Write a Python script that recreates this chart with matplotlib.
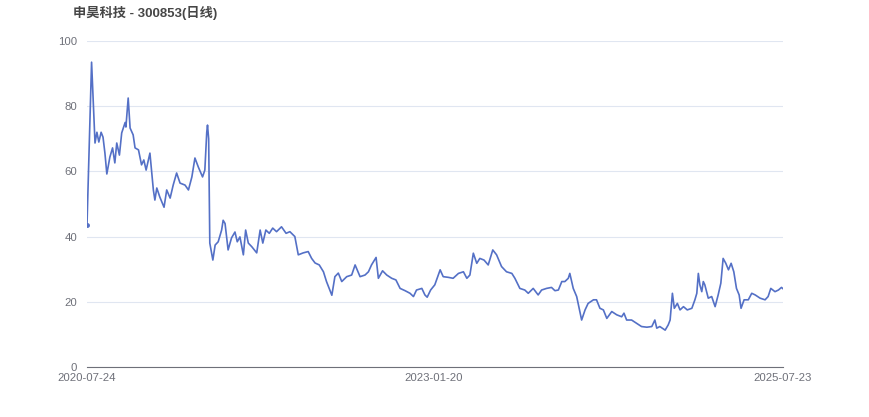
import numpy as np
import pandas as pd
import matplotlib
matplotlib.use('Agg')
import matplotlib.pyplot as plt

plt.rcParams['font.family'] = ['Liberation Sans', 'Noto Sans CJK SC', 'DejaVu Sans']

title = '申昊科技 - 300853(日线)'
start = pd.Timestamp('2020-07-24')
end = pd.Timestamp('2025-07-23')
tick_dates = ['2020-07-24', '2023-01-20', '2025-07-23']

# days since 2020-07-24 and close price
days = [0, 12, 21, 26, 31, 37, 42, 47, 52, 60, 67, 73, 78, 85, 91, 100, 102, 108, 113, 121,
        126, 135, 143, 149, 155, 165, 174, 178, 183, 191, 202, 209, 218, 226, 235, 244, 257, 266, 275, 283,
        292, 303, 309, 314, 316, 319, 322, 330, 336, 344, 353, 357, 362, 370, 379, 388, 394, 401, 410, 416,
        423, 432, 445, 454, 461, 469, 478, 487, 497, 510, 522, 532, 545, 554, 567, 580, 589, 598, 609, 620,
        628, 642, 650, 659, 668, 681, 694, 703, 716, 729, 738, 746, 758, 764, 775, 786, 799, 810, 821, 834,
        847, 856, 864, 878, 886, 892, 901, 912, 926, 934, 947, 960, 974, 987, 996, 1004, 1013, 1022, 1030, 1041,
        1052, 1064, 1074, 1087, 1100, 1114, 1122, 1135, 1148, 1157, 1170, 1183, 1192, 1205, 1218, 1227, 1236, 1245, 1253, 1262,
        1266, 1275, 1284, 1297, 1306, 1314, 1328, 1336, 1345, 1354, 1363, 1376, 1389, 1402, 1408, 1415, 1428, 1441, 1454, 1468,
        1481, 1489, 1494, 1502, 1516, 1524, 1529, 1535, 1540, 1548, 1555, 1564, 1574, 1586, 1594, 1599, 1603, 1607, 1612, 1616,
        1620, 1629, 1638, 1647, 1655, 1662, 1668, 1675, 1682, 1689, 1696, 1703, 1710, 1715, 1723, 1734, 1743, 1752, 1765, 1778,
        1786, 1793, 1804, 1813, 1821, 1825]
close = [43.6, 93.5, 68.7, 72.0, 69.0, 72.0, 70.5, 65.6, 59.2, 64.4, 67.2, 62.6, 68.7, 65.0, 71.8, 75.0, 73.6, 82.5, 73.3, 71.2,
         67.2, 66.6, 62.0, 63.5, 60.4, 65.6, 54.3, 51.2, 54.9, 52.1, 49.0, 54.3, 51.8, 55.8, 59.5, 56.4, 55.8, 54.3, 58.3, 64.1,
         61.3, 58.3, 60.4, 72.0, 74.2, 70.0, 38.0, 32.8, 37.4, 38.4, 42.0, 45.0, 44.0, 35.9, 39.6, 41.4, 38.4, 39.9, 34.4, 42.0,
         38.0, 36.9, 35.0, 42.0, 38.0, 42.0, 41.0, 42.6, 41.5, 43.0, 41.0, 41.5, 40.0, 34.4, 35.0, 35.4, 33.3, 31.9, 31.3, 29.2,
         26.2, 22.0, 27.7, 28.8, 26.2, 27.7, 28.2, 31.3, 27.7, 28.2, 29.2, 31.3, 33.6, 27.2, 29.5, 28.2, 27.2, 26.7, 24.1, 23.4,
         22.6, 21.6, 23.6, 24.1, 22.1, 21.4, 23.6, 25.2, 29.8, 27.7, 27.5, 27.2, 28.7, 29.2, 27.2, 28.2, 34.9, 31.8, 33.3, 32.8,
         31.3, 35.9, 34.4, 30.8, 29.2, 28.7, 27.2, 24.1, 23.6, 22.6, 24.1, 22.1, 23.6, 24.1, 24.4, 23.4, 23.6, 26.2, 26.2, 27.2,
         28.7, 24.1, 21.6, 14.4, 17.5, 19.5, 20.6, 20.6, 18.0, 17.5, 14.9, 17.0, 16.0, 15.4, 16.5, 14.4, 14.4, 13.4, 12.4, 12.2,
         12.4, 14.4, 11.9, 12.4, 11.3, 12.9, 14.4, 22.6, 18.0, 19.5, 17.5, 18.5, 17.5, 18.0, 20.6, 22.6, 28.7, 25.2, 23.1, 26.2,
         25.2, 21.1, 21.6, 18.5, 22.1, 25.7, 33.3, 31.8, 29.8, 31.8, 29.2, 24.1, 22.1, 18.0, 20.6, 20.6, 22.6, 22.1, 21.1, 20.6,
         21.6, 24.1, 23.1, 23.6, 24.4, 24.0]

dates = start + pd.to_timedelta(days, unit='D')

fig = plt.figure(figsize=(8.7, 4.17), dpi=100)
ax = fig.add_axes([0.1, 0.12, 0.8, 0.7817])

ax.plot(dates, close, color='#5470c6', lw=1.2, solid_joinstyle='round')
ax.plot(dates[:1], close[:1], 'o', color='#5470c6', ms=2.5)

ax.set_xlim(start, end)
ax.set_ylim(0, 100)
ax.set_yticks([0, 20, 40, 60, 80, 100])
ax.set_xticks(pd.to_datetime(tick_dates))
ax.set_xticklabels(tick_dates)

ax.grid(axis='y', color='#e0e6f1', lw=0.8)
ax.set_axisbelow(True)
for s in ['top', 'right', 'left']:
    ax.spines[s].set_visible(False)
ax.spines['bottom'].set_color('#6e7079')
ax.spines['bottom'].set_linewidth(0.8)
ax.tick_params(axis='both', length=0, colors='#6e7079', labelsize=8.2)
ax.tick_params(axis='y', pad=7)
ax.tick_params(axis='x', pad=4)

fig.text(0.084, 0.985, title, fontsize=9.5, fontweight='bold', color='#464646', va='top', ha='left')

fig.savefig('out.png', dpi=100)
